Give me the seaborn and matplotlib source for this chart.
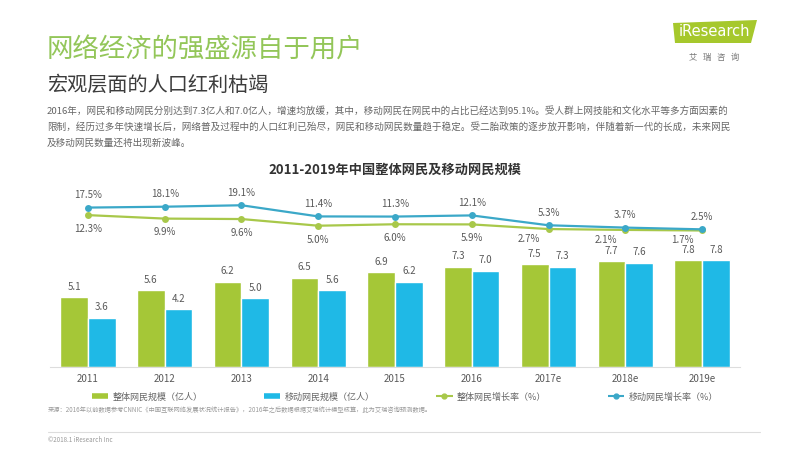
import numpy as np
import pandas as pd
import seaborn as sns
import matplotlib.pyplot as plt
from matplotlib.lines import Line2D
from matplotlib.patches import Polygon

# ---- data ----
years = ['2011', '2012', '2013', '2014', '2015', '2016', '2017e', '2018e', '2019e']
total_users = [5.1, 5.6, 6.2, 6.5, 6.9, 7.3, 7.5, 7.7, 7.8]
mobile_users = [3.6, 4.2, 5.0, 5.6, 6.2, 7.0, 7.3, 7.6, 7.8]
total_growth = [12.3, 9.9, 9.6, 5.0, 6.0, 5.9, 2.7, 2.1, 1.7]
mobile_growth = [17.5, 18.1, 19.1, 11.4, 11.3, 12.1, 5.3, 3.7, 2.5]

bar_names = ['整体网民规模（亿人）', '移动网民规模（亿人）']
line_names = ['整体网民增长率（%）', '移动网民增长率（%）']

GREEN = '#a5c737'
BLUE = '#1fb9e6'
LGREEN = '#a8c84a'
LBLUE = '#3ba8c8'
GRAY = '#595959'

sns.set_style('white')
plt.rcParams['font.family'] = ['Noto Sans CJK SC', 'DejaVu Sans']

df = pd.DataFrame({
    'year': years * 2,
    'value': total_users + mobile_users,
    'kind': [bar_names[0]] * 9 + [bar_names[1]] * 9,
})

fig = plt.figure(figsize=(8, 4.5), dpi=100)


def px(x, y):
    return x / 800, 1 - y / 450


# ---- header ----
fig.text(*px(47, 50), '网络经济的强盛源自于用户', color='#93c659', fontsize=19, va='center')
fig.text(*px(47, 85), '宏观层面的人口红利枯竭', color='#3c3c3c', fontsize=14.5, va='center')
para = ['2016年，网民和移动网民分别达到7.3亿人和7.0亿人，增速均放缓，其中，移动网民在网民中的占比已经达到95.1%。受人群上网技能和文化水平等多方面因素的',
        '限制，经历过多年快速增长后，网络普及过程中的人口红利已殆尽，网民和移动网民数量趋于稳定。受二胎政策的逐步放开影响，伴随着新一代的长成，未来网民',
        '及移动网民数量还将出现新波峰。']
for i, line in enumerate(para):
    fig.text(*px(47, 111 + 16 * i), line, color='#666666', fontsize=6.9, va='center')

# logo
logo = Polygon([px(673, 23), px(757, 20), px(751, 43), px(675, 43)], closed=True,
               transform=fig.transFigure, facecolor='#a6c82c', edgecolor='none')
fig.patches.append(logo)
fig.text(*px(714, 32), 'iResearch', color='white', fontsize=10.5, ha='center', va='center',
         family=['DejaVu Sans'])
fig.text(*px(714, 57), '艾   瑞   咨   询', color='#777777', fontsize=6, ha='center', va='center')

fig.text(*px(395, 170), '2011-2019年中国整体网民及移动网民规模', color='#333333',
         fontsize=9.5, fontweight='bold', ha='center', va='center')

# ---- bars ----
ax = fig.add_axes([50 / 800, (450 - 367) / 450, 690 / 800, 207 / 450])
sns.barplot(data=df, x='year', y='value', hue='kind', palette=[GREEN, BLUE],
            width=0.72, saturation=1, ax=ax, legend=False)
ax.set_xlim(-0.495, 8.495)
ax.set_ylim(0, 15.1)
for c in ax.containers:
    ax.bar_label(c, fmt='%.1f', padding=4, fontsize=7, color=GRAY)
ax.set_xlabel('')
ax.set_ylabel('')
ax.set_yticks([])
ax.tick_params(axis='x', length=0, labelsize=7, labelcolor=GRAY, pad=5)
for s in ['top', 'left', 'right']:
    ax.spines[s].set_visible(False)
ax.spines['bottom'].set_color('#dddddd')
ax.spines['bottom'].set_linewidth(0.8)

# ---- growth lines ----
ax2 = ax.twinx()
xpos = np.arange(len(years))
sns.lineplot(x=xpos, y=total_growth, color=LGREEN, marker='o', markersize=5,
             markeredgewidth=0, linewidth=1.6, ax=ax2)
sns.lineplot(x=xpos, y=mobile_growth, color=LBLUE, marker='o', markersize=5,
             markeredgewidth=0, linewidth=1.6, ax=ax2)
ax2.set_ylim(-92.4, 50.3)
ax2.set_yticks([])
ax2.axis('off')

for i, (g, m) in enumerate(zip(total_growth, mobile_growth)):
    ax2.annotate(f'{m:.1f}%', (i, m), xytext=(0, 9), textcoords='offset points',
                 ha='center', va='center', fontsize=7, color=GRAY)
    if i < 6:
        off = (0, -10)
    else:
        off = (-14, -7)
    ax2.annotate(f'{g:.1f}%', (i, g), xytext=off, textcoords='offset points',
                 ha='center', va='center', fontsize=7, color=GRAY)

# ---- legend ----
handles = [Line2D([], [], color=GREEN, lw=4, solid_capstyle='butt'),
           Line2D([], [], color=BLUE, lw=4, solid_capstyle='butt'),
           Line2D([], [], color=LGREEN, lw=1.5, marker='o', markersize=3.5, solid_capstyle='butt'),
           Line2D([], [], color=LBLUE, lw=1.5, marker='o', markersize=3.5, solid_capstyle='butt')]
fig.legend(handles, bar_names + line_names, loc='center', bbox_to_anchor=px(405, 397),
           ncol=4, frameon=False, fontsize=6.5, labelcolor='#666666',
           handlelength=1.8, handletextpad=0.5, columnspacing=6.8)

# ---- footer ----
fig.text(*px(48, 410), '来源：2016年以前数据参考CNNIC《中国互联网络发展状况统计报告》，2016年之后数据根据艾瑞统计模型核算，此为艾瑞咨询预测数据。',
         color='#999999', fontsize=4.5, va='center')
fig.add_artist(Line2D([48 / 800, 760 / 800], [1 - 432 / 450] * 2, color='#dddddd', lw=0.8))
fig.text(*px(48, 440), '©2018.1 iResearch Inc', color='#999999', fontsize=4.5, va='center')

fig.savefig('out.png', dpi=100)
